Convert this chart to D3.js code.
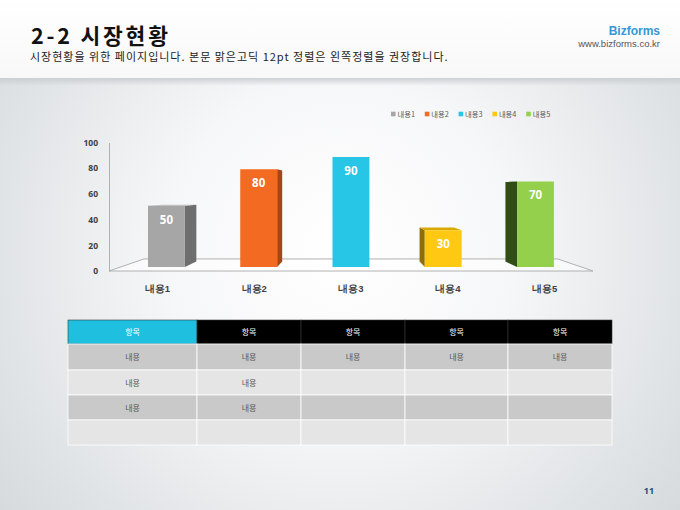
<!DOCTYPE html>
<html>
<head>
<meta charset="utf-8">
<script src="https://cdn.jsdelivr.net/npm/d3@7"></script>
<style>
  html, body { margin: 0; padding: 0; background: #fff; }
  svg { display: block; font-family: "Noto Sans CJK KR", "Noto Sans", sans-serif; }
</style>
</head>
<body>
<div id="vis"></div>
<script>
// chart data
var categories = ["내용1", "내용2", "내용3", "내용4", "내용5"];
var values = [50, 80, 90, 30, 70];
var yTicks = [0, 20, 40, 60, 80, 100];
var frontColors = ["#a6a6a6", "#f36b22", "#27c6e6", "#fec813", "#94d04c"];
var sideColors = ["#6e6e6e", "#a3461a", "#1a8ea6", "#8f6e06", "#2f4d15"];
var topColors = ["#bdbdbd", "#c95518", "#5fd6ee", "#d9a900", "#6f9d34"];

// table text
var tableHeader = ["항목", "항목", "항목", "항목", "항목"];
var tableRows = [
  ["내용", "내용", "내용", "내용", "내용"],
  ["내용", "내용", "", "", ""],
  ["내용", "내용", "", "", ""],
  ["", "", "", "", ""]
];

(function() {
  var W = 680, H = 510;
  var svg = d3.select("#vis").append("svg")
    .attr("width", W).attr("height", H);

  var defs = svg.append("defs");
  var bg = defs.append("radialGradient").attr("id", "bodyBg")
    .attr("gradientUnits", "userSpaceOnUse")
    .attr("cx", 340).attr("cy", 250).attr("r", 430);
  bg.append("stop").attr("offset", 0).attr("stop-color", "#ffffff");
  bg.append("stop").attr("offset", 0.4).attr("stop-color", "#f6f7f8");
  bg.append("stop").attr("offset", 1).attr("stop-color", "#d6dadd");

  var head = defs.append("linearGradient").attr("id", "headBg")
    .attr("x1", 0).attr("y1", 0).attr("x2", 0).attr("y2", 1);
  head.append("stop").attr("offset", 0).attr("stop-color", "#ffffff");
  head.append("stop").attr("offset", 1).attr("stop-color", "#f8f8f8");

  var shade = defs.append("linearGradient").attr("id", "shade")
    .attr("x1", 0).attr("y1", 0).attr("x2", 0).attr("y2", 1);
  shade.append("stop").attr("offset", 0).attr("stop-color", "#c9ccd0").attr("stop-opacity", 0.9);
  shade.append("stop").attr("offset", 1).attr("stop-color", "#c9ccd0").attr("stop-opacity", 0);

  // background
  svg.append("rect").attr("y", 78).attr("width", W).attr("height", H - 78).attr("fill", "url(#bodyBg)");
  svg.append("rect").attr("width", W).attr("height", 78).attr("fill", "url(#headBg)");
  svg.append("rect").attr("y", 78).attr("width", W).attr("height", 8).attr("fill", "url(#shade)");

  // header texts
  svg.append("text").attr("x", 31).attr("y", 44)
    .attr("font-size", 21.5).attr("font-weight", "bold").attr("fill", "#111")
    .attr("letter-spacing", 2.8)
    .text("2-2 시장현황");
  svg.append("text").attr("x", 30).attr("y", 61)
    .attr("font-size", 11).attr("fill", "#222").attr("letter-spacing", 1.0)
    .text("시장현황을 위한 페이지입니다. 본문 맑은고딕 12pt 정렬은 왼쪽정렬을 권장합니다.");
  svg.append("text").attr("x", 660).attr("y", 34.5).attr("text-anchor", "end")
    .attr("font-size", 12).attr("font-weight", "bold").attr("fill", "#3597d6")
    .attr("font-family", "'Liberation Sans', 'Roboto', sans-serif")
    .text("Bizforms");
  svg.append("text").attr("x", 660).attr("y", 46.5).attr("text-anchor", "end")
    .attr("font-size", 9.5).attr("fill", "#555")
    .attr("font-family", "'Liberation Sans', 'Roboto', sans-serif")
    .text("www.bizforms.co.kr");

  // ---- 3D column chart ----
  var x = d3.scaleBand().domain(categories).range([109, 593])
    .paddingInner(0.6).paddingOuter(0.3);
  var y = d3.scaleLinear().domain([0, 100]).range([271, 142.5]);

  // simple perspective: points pulled toward a centre as depth grows
  var cx = 350, cy = 188;
  var sFront = 0.953, sBack = 0.887, sFloor = 0.855;
  function proj(px, py, s) { return [cx + (px - cx) * s, cy + (py - cy) * s]; }
  function poly(pts) { return pts.map(function(p) { return p.join(","); }).join(" "); }

  var chart = svg.append("g");
  var xr = x.range();

  // floor
  chart.append("polygon")
    .attr("points", poly([proj(xr[0], y(0), 1), proj(xr[1], y(0), 1),
                          proj(xr[1], y(0), sFloor), proj(xr[0], y(0), sFloor)]))
    .attr("fill", "#ffffff").attr("fill-opacity", 0.55)
    .attr("stroke", "#a9a9a9").attr("stroke-width", 0.9);

  // y axis
  var yAxis = chart.append("g").attr("transform", "translate(" + xr[0] + ",0)")
    .call(d3.axisLeft(y).tickValues(yTicks).tickSize(0).tickPadding(11));
  yAxis.select(".domain").attr("stroke", "#a9a9a9").attr("stroke-width", 0.9);
  yAxis.selectAll("text").attr("font-size", 8.5).attr("font-weight", "bold")
    .attr("fill", "#404040").attr("font-family", "'Noto Sans', sans-serif");

  // x axis labels
  var xAxis = chart.append("g").attr("transform", "translate(0," + y(0) + ")")
    .call(d3.axisBottom(x).tickSize(0).tickPadding(14));
  xAxis.select(".domain").remove();
  xAxis.selectAll("text").attr("font-size", 9.5).attr("font-weight", "bold")
    .attr("fill", "#404040");

  var data = categories.map(function(c, i) { return { cat: c, v: values[i], i: i }; });
  var bars = chart.selectAll("g.bar").data(data).enter().append("g").attr("class", "bar");

  bars.each(function(d) {
    var g = d3.select(this);
    var x0 = x(d.cat), x1 = x0 + x.bandwidth(), yt = y(d.v), yb = y(0);
    var sx = null;
    if (x1 < cx) sx = x1;
    else if (x0 > cx) sx = x0;
    if (sx !== null) {
      g.append("polygon")
        .attr("points", poly([proj(sx, yt, sFront), proj(sx, yt, sBack),
                              proj(sx, yb, sBack), proj(sx, yb, sFront)]))
        .attr("fill", sideColors[d.i]);
    }
    if (yt > cy) {
      g.append("polygon")
        .attr("points", poly([proj(x0, yt, sFront), proj(x1, yt, sFront),
                              proj(x1, yt, sBack), proj(x0, yt, sBack)]))
        .attr("fill", topColors[d.i]);
    }
    g.append("polygon")
      .attr("points", poly([proj(x0, yt, sFront), proj(x1, yt, sFront),
                            proj(x1, yb, sFront), proj(x0, yb, sFront)]))
      .attr("fill", frontColors[d.i]);
    var lp = proj(x0 + x.bandwidth() / 2, yt, sFront);
    g.append("text").attr("x", lp[0]).attr("y", lp[1] + 18)
      .attr("text-anchor", "middle").attr("font-size", 11.5).attr("font-weight", "bold")
      .attr("font-family", "'Noto Sans', sans-serif")
      .attr("fill", "#ffffff").text(d.v);
  });

  // legend
  var legend = chart.append("g").attr("transform", "translate(391,114)");
  var li = legend.selectAll("g").data(categories).enter().append("g")
    .attr("transform", function(d, i) { return "translate(" + (i * 33.8) + ",0)"; });
  li.append("rect").attr("x", 0).attr("y", -2.3).attr("width", 4.6).attr("height", 4.6)
    .attr("fill", function(d, i) { return frontColors[i]; });
  li.append("text").attr("x", 6.5).attr("y", 2.7).attr("font-size", 7.3)
    .attr("fill", "#595959").text(function(d) { return d; });

  // ---- table ----
  var colX = [68, 197, 301, 405, 508, 612];
  var rowY = [320, 344, 370, 395, 420, 445];
  var tbl = svg.append("g");

  tbl.selectAll("rect.hd").data(tableHeader).enter().append("rect").attr("class", "hd")
    .attr("x", function(d, i) { return colX[i]; })
    .attr("y", rowY[0])
    .attr("width", function(d, i) { return colX[i + 1] - colX[i]; })
    .attr("height", rowY[1] - rowY[0])
    .attr("fill", function(d, i) { return i === 0 ? "#1fbfdf" : "#000000"; })
    .attr("stroke", "#3a3a3a").attr("stroke-width", 0.6);
  tbl.selectAll("text.hd").data(tableHeader).enter().append("text").attr("class", "hd")
    .attr("x", function(d, i) { return (colX[i] + colX[i + 1]) / 2; })
    .attr("y", (rowY[0] + rowY[1]) / 2 + 3)
    .attr("text-anchor", "middle").attr("font-size", 8).attr("fill", "#ffffff")
    .text(function(d) { return d; });

  var rows = tbl.selectAll("g.row").data(tableRows).enter().append("g").attr("class", "row");
  rows.each(function(r, ri) {
    var g = d3.select(this);
    var top = rowY[ri + 1], bot = rowY[ri + 2];
    g.selectAll("rect").data(r).enter().append("rect")
      .attr("x", function(d, i) { return colX[i]; })
      .attr("y", top)
      .attr("width", function(d, i) { return colX[i + 1] - colX[i]; })
      .attr("height", bot - top)
      .attr("fill", ri % 2 === 0 ? "#c9c9c9" : "#e5e5e5")
      .attr("stroke", "#ffffff").attr("stroke-width", 0.8);
    g.selectAll("text").data(r).enter().append("text")
      .attr("x", function(d, i) { return (colX[i] + colX[i + 1]) / 2; })
      .attr("y", (top + bot) / 2 + 3)
      .attr("text-anchor", "middle").attr("font-size", 8).attr("fill", "#595959")
      .text(function(d) { return d; });
  });

  // page number
  svg.append("text").attr("x", 649).attr("y", 494).attr("text-anchor", "middle")
    .attr("font-size", 9).attr("font-weight", "bold").attr("fill", "#1f4e79")
    .attr("font-family", "'Noto Sans', sans-serif")
    .text("11");
}());
</script>
</body>
</html>
